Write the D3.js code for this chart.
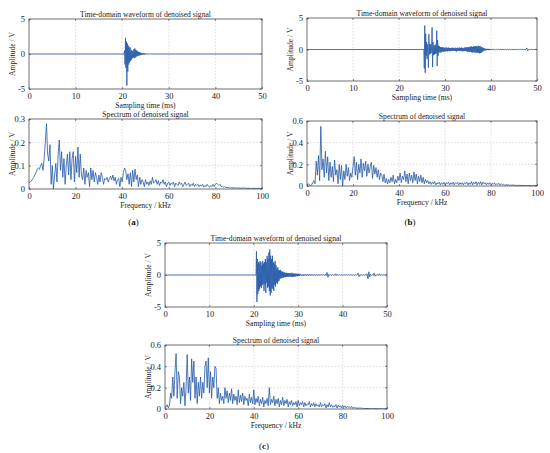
<!DOCTYPE html>
<html><head><meta charset="utf-8">
<script src="https://cdn.jsdelivr.net/npm/d3@7"></script>
<style>
html,body{margin:0;padding:0;background:#fff;}
svg{display:block;font-family:"Liberation Serif","Times New Roman",serif;}
</style></head>
<body>
<svg id="chart" width="550" height="453"></svg>
<script>
// ---------------- DATA ----------------
const timeTicks = [0, 10, 20, 30, 40, 50];
const timeAmpTicks = [-5, 0, 5];
const freqTicks = [0, 20, 40, 60, 80, 100];
const specTicksA = [0, 0.1, 0.2, 0.3];
const specTicksBC = [0, 0.2, 0.4, 0.6];
const panelLabels = ["a", "b", "c"];
const titles = ["Time-domain waveform of denoised signal", "Spectrum of denoised signal"];
const xTitles = ["Sampling time (ms)", "Frequency / kHz"];
const yTitle = "Amplitude / V";

// spectra sampled every 0.5 kHz, 0..100 kHz
const specStep = 0.5;
const spectrumA = [
0.025,0.03,0.035,0.042,0.05,0.06,0.07,0.085,0.09,0.085,0.1,0.11,0.08,0.13,0.2,0.28,0.15,0.12,0.19,0.02,
0.1,0.0,0.06,0.11,0.03,0.15,0.21,0.08,0.16,0.05,0.13,0.02,0.1,0.15,0.06,0.16,0.04,0.13,0.16,0.03,
0.14,0.07,0.18,0.05,0.15,0.06,0.04,0.09,0.02,0.08,0.05,0.07,0.01,0.09,0.04,0.08,0.03,0.07,0.05,0.02,
0.06,0.03,0.07,0.05,0.02,0.045,0.04,0.05,0.03,0.045,0.055,0.04,0.06,0.035,0.05,0.02,0.04,0.045,0.01,0.05,
0.03,0.07,0.09,0.08,0.04,0.065,0.02,0.07,0.01,0.08,0.03,0.085,0.04,0.06,0.01,0.05,0.02,0.04,0.03,0.01,
0.04,0.02,0.03,0.015,0.035,0.02,0.05,0.025,0.03,0.04,0.02,0.035,0.015,0.03,0.025,0.04,0.02,0.03,0.01,0.025,
0.03,0.015,0.025,0.02,0.03,0.01,0.025,0.02,0.015,0.03,0.02,0.025,0.01,0.02,0.03,0.015,0.02,0.025,0.01,0.02,
0.015,0.025,0.01,0.02,0.015,0.02,0.01,0.018,0.012,0.02,0.008,0.015,0.01,0.02,0.012,0.008,0.015,0.01,0.02,0.01,
0.02,0.025,0.02,0.015,0.02,0.01,0.012,0.008,0.01,0.006,0.008,0.005,0.007,0.004,0.006,0.005,0.004,0.006,0.003,0.005,
0.004,0.005,0.003,0.004,0.005,0.003,0.004,0.003,0.002,0.004,0.003,0.002,0.003,0.004,0.002,0.003,0.002,0.002,0.003,0.002,0.002
];
const spectrumB = [
0.01,0.02,0.015,0.0,0.01,0.03,0.05,0.02,0.23,0.1,0.28,0.05,0.55,0.15,0.25,0.08,0.32,0.12,0.27,0.05,
0.22,0.08,0.18,0.04,0.24,0.1,0.15,0.02,0.2,0.06,0.19,0.0,0.14,0.06,0.2,0.09,0.17,0.05,0.12,0.08,
0.18,0.27,0.1,0.22,0.06,0.2,0.12,0.25,0.08,0.21,0.14,0.23,0.09,0.2,0.12,0.18,0.22,0.07,0.19,0.11,
0.17,0.08,0.15,0.06,0.12,0.1,0.04,0.11,0.03,0.07,0.02,0.06,0.03,0.08,0.04,0.1,0.02,0.06,0.03,0.09,
0.05,0.12,0.03,0.09,0.06,0.14,0.04,0.11,0.02,0.12,0.05,0.1,0.03,0.13,0.05,0.11,0.02,0.09,0.04,0.1,
0.03,0.08,0.02,0.06,0.03,0.05,0.02,0.04,0.015,0.035,0.02,0.04,0.01,0.03,0.02,0.035,0.01,0.03,0.015,0.035,
0.01,0.03,0.02,0.035,0.01,0.03,0.015,0.035,0.01,0.03,0.02,0.035,0.01,0.03,0.015,0.03,0.01,0.03,0.02,0.035,
0.01,0.03,0.015,0.04,0.01,0.035,0.02,0.04,0.01,0.035,0.015,0.04,0.01,0.035,0.02,0.03,0.01,0.03,0.015,0.03,
0.01,0.025,0.015,0.03,0.01,0.02,0.015,0.025,0.008,0.02,0.01,0.015,0.006,0.012,0.008,0.012,0.005,0.01,0.006,0.01,
0.005,0.008,0.004,0.007,0.005,0.006,0.004,0.006,0.003,0.005,0.004,0.005,0.003,0.005,0.004,0.004,0.003,0.004,0.003,0.004,0.003
];
const spectrumC = [
0.03,0.02,0.04,0.01,0.03,0.15,0.1,0.3,0.12,0.35,0.52,0.1,0.35,0.3,0.05,0.2,0.12,0.25,0.03,0.2,
0.51,0.15,0.3,0.08,0.47,0.25,0.45,0.1,0.3,0.05,0.25,0.12,0.3,0.1,0.25,0.15,0.4,0.45,0.2,0.48,
0.15,0.35,0.1,0.3,0.2,0.4,0.38,0.1,0.2,0.05,0.15,0.08,0.12,0.05,0.2,0.1,0.17,0.06,0.15,0.08,
0.19,0.05,0.14,0.08,0.12,0.04,0.18,0.06,0.13,0.07,0.15,0.04,0.12,0.08,0.1,0.03,0.14,0.06,0.11,0.05,
0.18,0.04,0.1,0.06,0.12,0.03,0.09,0.05,0.11,0.02,0.08,0.05,0.1,0.03,0.2,0.04,0.09,0.06,0.12,0.03,
0.09,0.05,0.1,0.02,0.08,0.04,0.11,0.03,0.08,0.05,0.09,0.02,0.07,0.04,0.08,0.03,0.06,0.04,0.07,0.02,
0.08,0.03,0.06,0.04,0.07,0.02,0.06,0.03,0.05,0.04,0.07,0.02,0.05,0.03,0.06,0.02,0.05,0.03,0.04,0.02,
0.06,0.02,0.04,0.03,0.05,0.01,0.04,0.02,0.06,0.02,0.04,0.015,0.03,0.02,0.04,0.01,0.035,0.02,0.03,0.01,
0.035,0.015,0.03,0.01,0.025,0.015,0.02,0.01,0.025,0.008,0.015,0.01,0.012,0.006,0.01,0.008,0.01,0.005,0.008,0.004,
0.006,0.004,0.005,0.003,0.005,0.003,0.004,0.002,0.004,0.003,0.003,0.002,0.003,0.002,0.003,0.002,0.002,0.002,0.003,0.002,0.002
];

// time-domain segments: start time (ms), sample interval (ms), amplitudes (V)
const burstA = { t0: 20.4, dt: 0.1, v: [
0,0.5,-1.5,2.3,-2.0,1.8,-4.5,1.5,-2.5,1.2,
-1.5,1.0,-1.2,0.9,-1.0,0.6,-0.8,0.5,-0.6,0.4,
-0.5,0.7,-0.6,0.8,-0.5,0.6,-0.4,0.5,-0.3,0.4,
-0.3,0.3,-0.2,0.25,-0.2,0.2,-0.15,0.15,-0.1,0.12,
-0.1,0.1,-0.08,0.08,-0.06,0.07,-0.05,0.05,-0.04,0.05,
-0.04,0.04,-0.03,0.03,-0.02,0.03,-0.02,0.02,-0.01,0.0 ]};
const burstB = { t0: 25.4, dt: 0.1, v: [
0,-3.0,3.8,-3.7,2.5,-1.0,1.2,-1.5,0.8,-0.9,
-2.9,2.4,-0.8,0.9,-0.7,0.8,-0.6,1.0,3.5,-2.8,
1.2,-0.9,0.7,-0.8,0.6,-0.7,0.8,-0.6,3.0,-2.6,
1.5,-1.0,0.6,-0.5,0.5,-0.4,0.4,-0.5,0.3,-0.4,
0.4,-0.3,0.3,-0.35,0.3,-0.3,0.25,-0.3,0.3,-0.25,
0.3,-0.3,0.2,-0.25,0.3,-0.2,0.25,-0.3,0.2,-0.2,
0.25,-0.2,0.3,-0.25,0.2,-0.2,0.25,-0.2,0.3,-0.25,
0.2,-0.3,0.25,-0.2,0.3,-0.2,0.2,-0.25,0.3,-0.2,
0.25,-0.2,0.3,-0.3,0.25,-0.2,0.2,-0.3,0.3,-0.2,
0.3,-0.25,0.35,-0.3,0.3,-0.35,0.4,-0.3,0.35,-0.4,
0.4,-0.35,0.5,-0.4,0.45,-0.5,0.4,-0.45,0.5,-0.4,
0.45,-0.5,0.55,-0.45,0.5,-0.55,0.45,-0.5,0.6,-0.5,
0.55,-0.6,0.5,-0.55,0.45,-0.5,0.4,-0.35,0.3,-0.25,
0.2,-0.2,0.15,-0.15,0.12,-0.12,0.1,-0.1,0.1,-0.08,
0.08,-0.1,0.1,-0.08,0.08,-0.07,0.06,-0.06,0.05,-0.05 ]};
const tailB = { t0: 40.4, dt: 0.2, v: [
0.05,-0.04,0.04,-0.05,0.03,-0.04,0.05,-0.03,0.04,-0.04,
0.03,-0.03,0.04,-0.03,0.03,-0.04,0.03,-0.02,0.03,-0.03,
0.02,-0.03,0.03,-0.02,0.02,-0.03,0.02,-0.02,0.03,-0.02,
0.02,-0.02,0.03,-0.02,0.02,-0.02,0.02,0.25,-0.2,0.02,
0.02,-0.02,0.02,-0.01,0.02,-0.02,0.01,-0.01 ]};
const burstC = { t0: 20.5, dt: 0.1, v: [
0,3.7,-4.2,2.5,-3.0,2.0,-2.5,1.8,-2.2,2.2,
-1.8,2.0,-2.0,1.5,-1.6,2.2,-1.4,1.8,-2.5,2.0,
-1.5,2.5,-2.8,2.0,-1.2,3.0,-2.0,2.5,-1.8,3.5,
-2.5,4.0,-3.2,3.0,-2.8,2.5,-2.0,3.0,-2.2,2.0,
-2.5,1.8,-1.5,2.2,-1.8,1.5,-1.2,1.0,-1.4,1.2,
-1.0,0.8,-0.9,0.7,-0.6,0.8,-0.5,0.6,-0.5,0.5,
-0.4,0.5,-0.4,0.4,-0.3,0.4,-0.35,0.3,-0.3,0.35,
-0.3,0.3,-0.25,0.3,-0.3,0.25,-0.2,0.3,-0.25,0.2,
-0.3,0.35,-0.25,0.2,-0.3,0.25,-0.2,0.2,-0.25,0.2,
-0.2,0.2,-0.15,0.2,-0.2,0.15,-0.15,0.2,-0.15,0.1 ]};
const tailC = { t0: 30.5, dt: 0.2, v: [
0.15,-0.12,0.1,-0.15,0.12,-0.1,0.1,-0.12,0.15,-0.1,
0.1,-0.1,0.12,-0.08,0.1,-0.1,0.08,-0.1,0.1,-0.08,
0.08,-0.1,0.1,-0.08,0.08,-0.06,0.08,-0.08,0.1,-0.1,
0.4,-0.35,0.1,-0.08,0.06,-0.08,0.08,-0.06,0.06,-0.05,
0.2,-0.1,0.06,-0.05,0.05,-0.06,0.05,-0.04,0.05,-0.05,
0.05,-0.04,0.04,-0.05,0.04,-0.04,0.05,-0.04,0.04,-0.04,
0.05,-0.05,0.04,-0.04,0.05,0.3,-0.25,0.05,-0.04,0.04,
-0.05,0.06,-0.05,0.05,-0.06,0.2,-0.6,0.5,-0.3,0.1,
-0.06,0.05,-0.05,0.3,-0.2,0.05,-0.04,0.04,-0.05,0.2,
-0.1,0.04,-0.03,0.04,-0.03,0.03,-0.03,0.02 ]};

// ---------------- DRAW ----------------
const svg = d3.select("#chart");
const LINE = "#2459a8";

function segPoints(segs, tEnd) {
  const pts = [[0, 0]];
  segs.forEach(s => s.v.forEach((v, i) => pts.push([s.t0 + i * s.dt, v])));
  pts.push([tEnd, 0]);
  return pts;
}
function specPoints(arr) { return arr.map((v, i) => [i * specStep, v]); }

let clipId = 0;
function panel(box, o) {
  const g = svg.append("g");
  const x = d3.scaleLinear().domain(o.xd).range([box.l, box.r]);
  const y = d3.scaleLinear().domain(o.yd).range([box.b, box.t]);
  g.selectAll(".vg").data(o.xt.slice(1, -1)).enter().append("line")
    .attr("x1", d => x(d)).attr("x2", d => x(d)).attr("y1", box.t).attr("y2", box.b)
    .attr("stroke", "#c9c9c9").attr("stroke-width", 0.6).attr("stroke-dasharray", "1.6,1.6");
  g.selectAll(".hg").data(o.yt.slice(1, -1)).enter().append("line")
    .attr("y1", d => y(d)).attr("y2", d => y(d)).attr("x1", box.l).attr("x2", box.r)
    .attr("stroke", "#c9c9c9").attr("stroke-width", 0.6).attr("stroke-dasharray", "1.6,1.6");
  const id = "clip" + (clipId++);
  svg.append("clipPath").attr("id", id).append("rect")
    .attr("x", box.l).attr("y", box.t).attr("width", box.r - box.l).attr("height", box.b - box.t);
  g.append("path").datum(o.pts)
    .attr("clip-path", `url(#${id})`)
    .attr("d", d3.line().x(d => x(d[0])).y(d => y(d[1])))
    .attr("fill", "none").attr("stroke", LINE).attr("stroke-width", 0.8).attr("stroke-linejoin", "round");
  const xa = g.append("g").attr("transform", `translate(0,${box.b})`)
    .call(d3.axisBottom(x).tickValues(o.xt).tickSize(-2).tickPadding(4).tickFormat(d3.format("d")));
  const ya = g.append("g").attr("transform", `translate(${box.l},0)`)
    .call(d3.axisLeft(y).tickValues(o.yt).tickSize(-2).tickPadding(4).tickFormat(o.yf));
  [xa, ya].forEach(a => {
    a.select(".domain").remove();
    a.selectAll("line").attr("stroke", "#444").attr("stroke-width", 0.6);
    a.selectAll("text").attr("font-family", "Liberation Serif, serif").attr("font-size", 8.5).attr("fill", "#222");
  });
  xa.selectAll("text").attr("dy", "0.71em");
  g.selectAll(".tt").data(o.xt).enter().append("line")
    .attr("x1", d => x(d)).attr("x2", d => x(d)).attr("y1", box.t).attr("y2", box.t + 2)
    .attr("stroke", "#444").attr("stroke-width", 0.6);
  g.selectAll(".rt").data(o.yt).enter().append("line")
    .attr("y1", d => y(d)).attr("y2", d => y(d)).attr("x1", box.r).attr("x2", box.r - 2)
    .attr("stroke", "#444").attr("stroke-width", 0.6);
  g.append("rect").attr("x", box.l).attr("y", box.t).attr("width", box.r - box.l).attr("height", box.b - box.t)
    .attr("fill", "none").attr("stroke", "#333").attr("stroke-width", 0.7);
  const cx = (box.l + box.r) / 2;
  g.append("text").attr("x", cx).attr("y", box.t - 2.5).attr("text-anchor", "middle")
    .attr("font-size", 7.6).attr("fill", "#222").text(o.title);
  g.append("text").attr("x", cx).attr("y", box.b + 18.8).attr("text-anchor", "middle")
    .attr("font-size", 7.6).attr("fill", "#222").text(o.xl);
  g.append("text").attr("transform", `translate(${box.l - 14},${(box.t + box.b) / 2}) rotate(-90)`)
    .attr("text-anchor", "middle").attr("font-size", 7.6).attr("fill", "#222").text(yTitle);
  if (o.label) {
    const t = g.append("text").attr("x", cx - 12).attr("y", o.labelY).attr("text-anchor", "middle")
      .attr("font-size", 9).attr("fill", "#111");
    t.append("tspan").text("(");
    t.append("tspan").attr("font-weight", "bold").text(o.label);
    t.append("tspan").text(")");
  }
}

const fmtTime = d => (d < 0 ? "-" : "") + Math.abs(d);
const fmtSpec = d => d === 0 ? "0" : d3.format(".1f")(d);

const layout = [
  { time: { l: 29, r: 262, t: 19, b: 89 },  spec: { l: 29, r: 262, t: 119, b: 189 }, labelY: 225 },
  { time: { l: 307, r: 537, t: 18, b: 81 }, spec: { l: 307, r: 537, t: 121, b: 186 }, labelY: 225 },
  { time: { l: 165, r: 387, t: 243, b: 307 }, spec: { l: 165, r: 387, t: 345, b: 409 }, labelY: 449 }
];
const timeSignals = [segPoints([burstA], 50), segPoints([burstB, tailB], 50), segPoints([burstC, tailC], 50)];
const spectra = [specPoints(spectrumA), specPoints(spectrumB), specPoints(spectrumC)];
const specTickSets = [specTicksA, specTicksBC, specTicksBC];
const specMax = [0.3, 0.6, 0.6];

layout.forEach((L, i) => {
  panel(L.time, { xd: [0, 50], yd: [-5, 5], xt: timeTicks, yt: timeAmpTicks, yf: fmtTime,
    pts: timeSignals[i], title: titles[0], xl: xTitles[0] });
  panel(L.spec, { xd: [0, 100], yd: [0, specMax[i]], xt: freqTicks, yt: specTickSets[i], yf: fmtSpec,
    pts: spectra[i], title: titles[1], xl: xTitles[1], label: panelLabels[i], labelY: L.labelY });
});
</script>
</body></html>
